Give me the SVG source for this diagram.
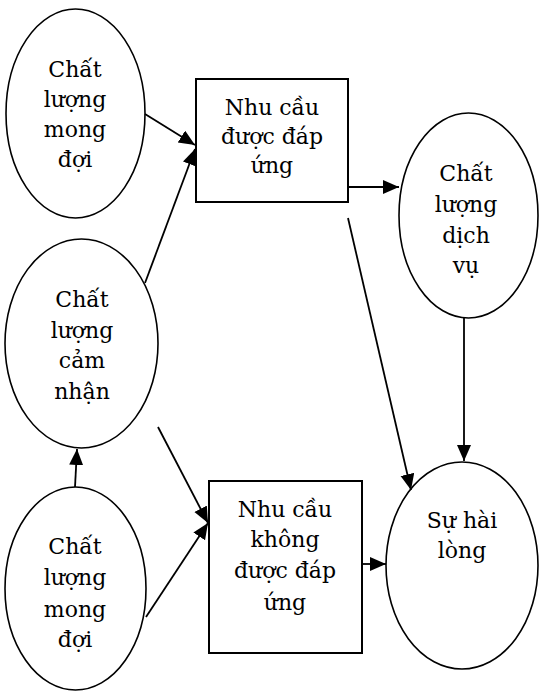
<svg xmlns="http://www.w3.org/2000/svg" width="539" height="692" viewBox="0 0 539 692">
<defs>
<style>
.n{fill:#fff;stroke:#000;stroke-width:1.6}
.b{fill:#fff;stroke:#000;stroke-width:2}
.t{font-family:"DejaVu Serif","Liberation Serif",serif;font-size:22px;fill:#000;text-anchor:middle}
.c{stroke:#000;stroke-width:1.8;fill:none;marker-end:url(#ah)}
</style>
<marker id="ah" markerUnits="userSpaceOnUse" markerWidth="17" markerHeight="15" refX="16" refY="7" orient="auto">
<path d="M0,0 L16,7 L0,14 z" fill="#000"/>
</marker>
</defs>
<rect width="539" height="692" fill="#fff"/>
<g id="e1">
<ellipse class="n" cx="75.5" cy="113.5" rx="69.5" ry="104.5"/>
<text class="t"><tspan x="75" y="77">Chất</tspan><tspan x="75" y="107">lượng</tspan><tspan x="75" y="137">mong</tspan><tspan x="75" y="167">đợi</tspan></text>
</g>
<g id="b1">
<rect class="b" x="196" y="79" width="152" height="123"/>
<text class="t"><tspan x="272" y="115">Nhu cầu</tspan><tspan x="272" y="144">được đáp</tspan><tspan x="272" y="173">ứng</tspan></text>
</g>
<g id="e2">
<ellipse class="n" cx="468.5" cy="215.5" rx="69.5" ry="102.5"/>
<text class="t"><tspan x="466" y="181">Chất</tspan><tspan x="466" y="212">lượng</tspan><tspan x="466" y="243">dịch</tspan><tspan x="466" y="273">vụ</tspan></text>
</g>
<g id="e3">
<ellipse class="n" cx="81.5" cy="343.5" rx="76.5" ry="104.5"/>
<text class="t"><tspan x="82" y="307">Chất</tspan><tspan x="82" y="338">lượng</tspan><tspan x="82" y="368">cảm</tspan><tspan x="82" y="399">nhận</tspan></text>
</g>
<g id="e4">
<ellipse class="n" cx="75.5" cy="588.5" rx="70.5" ry="101.5"/>
<text class="t"><tspan x="75" y="554">Chất</tspan><tspan x="75" y="585">lượng</tspan><tspan x="75" y="617">mong</tspan><tspan x="75" y="647">đợi</tspan></text>
</g>
<g id="b2">
<rect class="b" x="209" y="481" width="153" height="172"/>
<text class="t"><tspan x="285" y="517">Nhu cầu</tspan><tspan x="285" y="547">không</tspan><tspan x="285" y="578">được đáp</tspan><tspan x="285" y="610">ứng</tspan></text>
</g>
<g id="e5">
<ellipse class="n" cx="462" cy="565.5" rx="76" ry="103.5"/>
<text class="t"><tspan x="462" y="528">Sự hài</tspan><tspan x="462" y="558">lòng</tspan></text>
</g>
<g id="connectors">
<line class="c" x1="145" y1="114" x2="195" y2="145"/>
<line class="c" x1="145" y1="283" x2="195" y2="149"/>
<line class="c" x1="348" y1="187" x2="399" y2="187"/>
<line class="c" x1="348" y1="218" x2="411" y2="490"/>
<line class="c" x1="464" y1="318" x2="464" y2="461"/>
<line class="c" x1="158" y1="427" x2="208" y2="523"/>
<line class="c" x1="146" y1="617" x2="208" y2="523"/>
<line class="c" x1="75" y1="487" x2="77" y2="449"/>
<line class="c" x1="362" y1="564" x2="386" y2="564"/>
</g>
</svg>
